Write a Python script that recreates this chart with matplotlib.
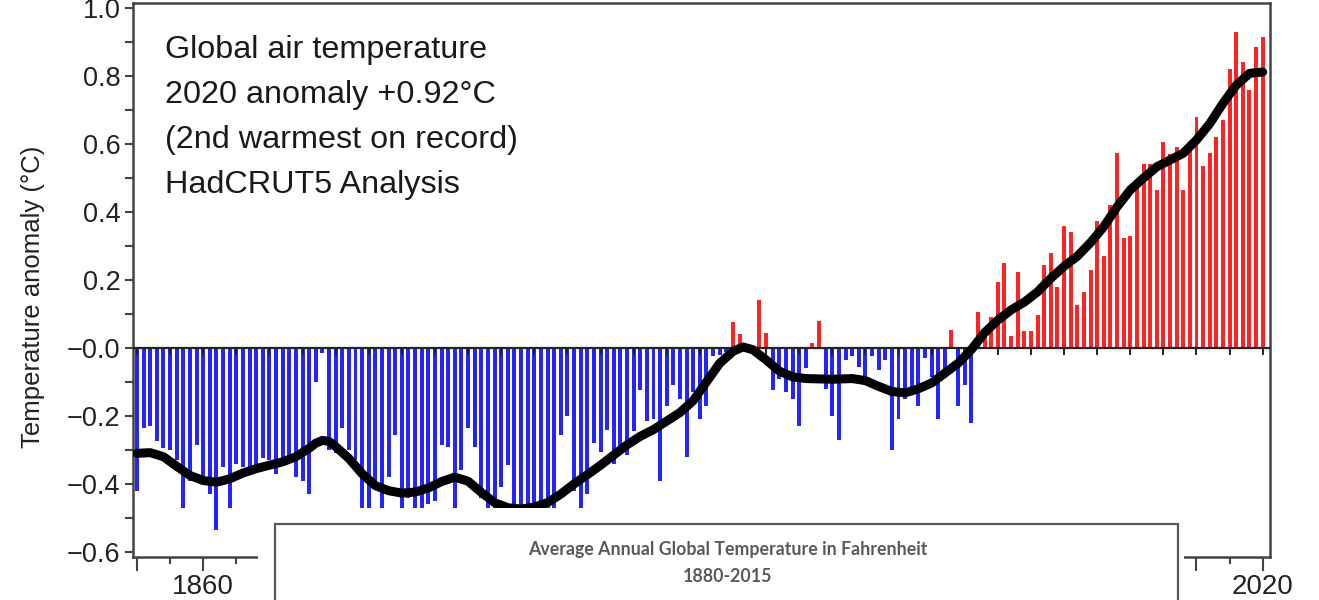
import matplotlib
matplotlib.use("Agg")
import matplotlib.pyplot as plt
from matplotlib.patches import Rectangle
from matplotlib.ticker import MultipleLocator, FixedLocator
import numpy as np

plt.rcParams['font.family'] = ['Liberation Sans', 'DejaVu Sans']

# ---------------- data ----------------
years = list(range(1850, 2021))
anomaly = [
    -0.42, -0.235, -0.23, -0.275, -0.295, -0.30, -0.33, -0.47, -0.39, -0.285,   # 1850-1859
    -0.39, -0.43, -0.535, -0.35, -0.47, -0.34, -0.35, -0.36, -0.35, -0.325,     # 1860-1869
    -0.33, -0.37, -0.33, -0.32, -0.38, -0.39, -0.43, -0.10, -0.015, -0.30,      # 1870-1879
    -0.31, -0.235, -0.30, -0.33, -0.48, -0.48, -0.40, -0.49, -0.38, -0.255,     # 1880-1889
    -0.50, -0.44, -0.52, -0.55, -0.46, -0.45, -0.285, -0.29, -0.50, -0.36,      # 1890-1899
    -0.235, -0.29, -0.44, -0.53, -0.60, -0.41, -0.345, -0.55, -0.57, -0.58,     # 1900-1909
    -0.56, -0.58, -0.50, -0.49, -0.255, -0.20, -0.42, -0.52, -0.43, -0.28,      # 1910-1919
    -0.305, -0.24, -0.34, -0.31, -0.315, -0.245, -0.125, -0.215, -0.21, -0.39,  # 1920-1929
    -0.17, -0.11, -0.15, -0.32, -0.13, -0.21, -0.17, -0.025, -0.02, -0.012,     # 1930-1939
    0.076, 0.04, -0.01, 0.005, 0.14, 0.045, -0.125, -0.09, -0.13, -0.15,        # 1940-1949
    -0.23, -0.06, 0.015, 0.08, -0.12, -0.20, -0.27, -0.035, -0.025, -0.055,     # 1950-1959
    -0.11, -0.025, -0.065, -0.035, -0.30, -0.21, -0.15, -0.13, -0.17, -0.03,    # 1960-1969
    -0.085, -0.21, -0.085, 0.053, -0.17, -0.11, -0.22, 0.105, 0.05, 0.09,       # 1970-1979
    0.195, 0.25, 0.035, 0.225, 0.05, 0.05, 0.097, 0.245, 0.28, 0.18,            # 1980-1989
    0.36, 0.34, 0.125, 0.165, 0.23, 0.375, 0.27, 0.42, 0.575, 0.325,            # 1990-1999
    0.33, 0.48, 0.54, 0.54, 0.465, 0.605, 0.57, 0.59, 0.465, 0.59,              # 2000-2009
    0.68, 0.535, 0.575, 0.62, 0.67, 0.82, 0.93, 0.84, 0.76, 0.885,              # 2010-2019
    0.915,                                                                      # 2020
]

smooth_years = [1850, 1852, 1854, 1856, 1858, 1860, 1862, 1864, 1866, 1868, 1870, 1872,
                1874, 1876, 1877, 1878, 1879, 1880, 1882, 1884, 1886, 1888, 1890, 1892,
                1894, 1896, 1898, 1900, 1902, 1904, 1906, 1908, 1910,
                1912, 1914, 1916, 1918, 1920, 1922, 1924, 1926, 1928, 1930, 1932, 1934,
                1936, 1938, 1940, 1941.5, 1943, 1945, 1947, 1949, 1951, 1955, 1958, 1960,
                1962, 1964, 1966, 1968, 1970, 1972, 1974, 1976, 1978, 1980, 1982, 1984,
                1986, 1988, 1990, 1992, 1994, 1996, 1998, 2000, 2002, 2004, 2006, 2008,
                2010, 2012, 2014, 2016, 2018, 2020]
smooth_vals = [-0.31, -0.308, -0.32, -0.348, -0.375, -0.39, -0.395, -0.385, -0.368, -0.355, -0.345, -0.335,
               -0.32, -0.295, -0.28, -0.272, -0.275, -0.29, -0.325, -0.37, -0.405, -0.42, -0.427, -0.424,
               -0.412, -0.393, -0.38, -0.392, -0.425, -0.455, -0.47, -0.474, -0.468,
               -0.455, -0.43, -0.40, -0.373, -0.345, -0.315, -0.285, -0.26, -0.24, -0.215, -0.19, -0.155,
               -0.10, -0.045, -0.01, 0.003, -0.005, -0.035, -0.068, -0.085, -0.09, -0.092, -0.09, -0.096,
               -0.113, -0.128, -0.132, -0.12, -0.103, -0.074, -0.045, -0.005, 0.045, 0.082, 0.112, 0.135,
               0.165, 0.205, 0.24, 0.27, 0.31, 0.357, 0.415, 0.465, 0.50, 0.533, 0.553, 0.573,
               0.612, 0.66, 0.72, 0.773, 0.808, 0.812]

ytick_vals = [-0.6, -0.4, -0.2, 0.0, 0.2, 0.4, 0.6, 0.8, 1.0]
ytick_labels = ['\u22120.6', '\u22120.4', '\u22120.2', '\u22120.0', '0.2', '0.4', '0.6', '0.8', '1.0']
xtick_vals = [1850, 1860, 1870, 1880, 1890, 1900, 1910, 1920, 1930, 1940, 1950, 1960,
              1970, 1980, 1990, 2000, 2010, 2020]
xtick_labels = ['', '1860', '', '', '', '', '', '', '', '', '', '', '', '', '', '', '', '2020']

annotation_lines = ["Global air temperature", "2020 anomaly +0.92\u00b0C",
                    "(2nd warmest on record)", "HadCRUT5 Analysis"]
inset_title = "Average Annual Global Temperature in Fahrenheit"
inset_sub = "1880-2015"

# ---------------- figure ----------------
W, H = 1319, 600
fig = plt.figure(figsize=(W / 100, H / 100), dpi=100)
ax = fig.add_axes([133 / W, 1 - 557 / H, (1270 - 133) / W, (557 - 3) / H])

YMIN, YMAX = -0.615, 1.015
ax.set_xlim(1849.4, 2021.1)
ax.set_ylim(YMIN, YMAX)

vals = np.array(anomaly)
colors = np.where(vals >= 0, '#ff2424', '#2424ff')
ax.bar(years, vals, width=0.6, color=colors, zorder=2)

# zero line with small tick marks
ax.axhline(0, color='#222222', lw=1.6, zorder=3)
zero_ticks = list(range(1850, 2021, 5))
ax.plot(zero_ticks, [0] * len(zero_ticks), linestyle='none', marker=3, ms=5,
        mew=1.4, color='#222222', zorder=3)

ax.plot(smooth_years, smooth_vals, color='black', lw=6.5, solid_capstyle='round',
        solid_joinstyle='round', zorder=4)

# axes styling
for s in ax.spines.values():
    s.set_color('#444444')
    s.set_linewidth(1.8)
ax.yaxis.set_major_locator(FixedLocator(ytick_vals))
ax.set_yticklabels(ytick_labels)
ax.yaxis.set_minor_locator(MultipleLocator(0.1))
ax.xaxis.set_major_locator(FixedLocator(xtick_vals))
ax.set_xticklabels(xtick_labels)
ax.xaxis.set_minor_locator(MultipleLocator(5))
ax.tick_params(axis='y', which='both', direction='out', length=6, width=1.5,
               color='#444444', labelsize=19.5, pad=3, labelcolor='#222222')
ax.tick_params(axis='x', which='major', direction='out', length=10, width=1.5,
               color='#444444', labelsize=20, pad=2, labelcolor='#222222')
ax.tick_params(axis='x', which='minor', direction='out', length=5, width=1.5,
               color='#444444')

fig.text(33 / W, 1 - 297 / H, 'Temperature anomaly (\u00b0C)', rotation=90, fontsize=18.5,
         color='#222222', ha='center', va='center')

# annotation text
for i, line in enumerate(annotation_lines):
    fig.text(165 / W, 1 - (50 + 45 * i) / H, line, fontsize=23.3, color='#1a1a1a',
             ha='left', va='center')

# overlaid inset (white region + bordered box)
fig.add_artist(Rectangle((258 / W, 0), (1184 - 258) / W, (600 - 508) / H,
                         transform=fig.transFigure, facecolor='white', edgecolor='none',
                         zorder=10))
fig.add_artist(Rectangle((275 / W, -0.05), (1178 - 275) / W, (600 - 524) / H + 0.05,
                         transform=fig.transFigure, facecolor='white', edgecolor='#555a60',
                         lw=1.6, zorder=11))
fig.text(728 / W, 1 - 549 / H, inset_title, fontsize=12.8, color='#5a5a5a',
         family=['Lato', 'DejaVu Sans'], weight='bold', ha='center', va='center', zorder=12)
fig.text(728 / W, 1 - 577 / H, inset_sub, fontsize=12.8, color='#5a5a5a',
         family=['Lato', 'DejaVu Sans'], weight='bold', ha='center', va='center', zorder=12)

fig.savefig('out.png', dpi=100)
